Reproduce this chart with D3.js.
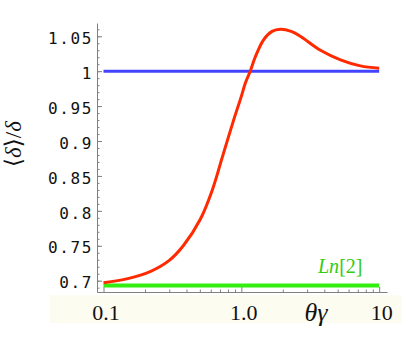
<!DOCTYPE html>
<html>
<head>
  <style>
    body { margin: 0; background: #fff; }
    .axis path, .axis line { stroke: #808080; }
  </style>
</head>
<body>
  <script src="https://d3js.org/d3.v7.min.js"></script>
  <script>
    // values
    const thetaGamma = [0.1, 0.15, 0.218, 0.3, 0.379, 0.504, 0.616, 0.728, 0.879, 1.0, 1.07, 1.16, 1.26, 1.45, 1.67, 1.92, 2.3, 2.68, 3.75, 5.24, 7.31, 10];
    const ratio = [0.697, 0.703, 0.713, 0.729, 0.750, 0.788, 0.830, 0.877, 0.930, 0.964, 0.983, 1.0, 1.020, 1.045, 1.057, 1.060, 1.057, 1.050, 1.030, 1.0163, 1.0076, 1.0043];
    const flatRange = [0.1, 10];
    const blueLevel = 1;
    const greenLevel = 0.6931;
    const xTicks = [0.1, 1, 10];
    const xTickLabels = ["0.1", "1.0", "10"];
    const xMinor = [0.2, 0.3, 0.4, 0.5, 0.6, 0.7, 0.8, 0.9, 2, 3, 4, 5, 6, 7, 8, 9];
    const yTicks = [0.7, 0.75, 0.8, 0.85, 0.9, 0.95, 1, 1.05];
    const yTickLabels = ["0.7", "0.75", "0.8", "0.85", "0.9", "0.95", "1", "1.05"];

    const serif = '"Liberation Serif", "Times New Roman", "DejaVu Serif", serif';
    const width = 409, height = 341;
    const svg = d3.select('body').append('svg')
      .attr('width', width)
      .attr('height', height);

    const x = d3.scaleLog().domain([0.0897, 11.4]).range([97, 387]);
    const y = d3.scaleLinear().domain([0.6838, 1.069]).range([292, 23]);

    // pale band behind the x labels
    svg.append('rect')
      .attr('x', 50).attr('y', 295)
      .attr('width', 352).attr('height', 28)
      .attr('fill', '#fcfcf1');

    // minor ticks
    const yMinor = d3.range(0.69, 1.0651, 0.01);
    svg.append('g').attr('class', 'axis')
      .attr('transform', 'translate(97,0)')
      .call(d3.axisLeft(y).tickValues(yMinor).tickSize(-2.5).tickFormat(''))
      .call(g => g.select('.domain').remove());
    svg.append('g').attr('class', 'axis')
      .attr('transform', 'translate(0,292)')
      .call(d3.axisBottom(x).tickValues(xMinor).tickSize(-2.5).tickFormat(''))
      .call(g => g.select('.domain').remove());

    // y axis
    const yAxis = svg.append('g').attr('class', 'axis')
      .attr('transform', 'translate(97,0)')
      .call(d3.axisLeft(y).tickValues(yTicks).tickSize(-5).tickSizeOuter(0).tickPadding(4)
        .tickFormat((d, i) => yTickLabels[i]));
    yAxis.selectAll('text')
      .attr('dy', '0.45em')
      .attr('font-family', '"DejaVu Sans Mono", monospace')
      .attr('font-size', 16)
      .style('letter-spacing', '1.6px')
      .attr('fill', '#111');

    // x axis
    const xAxis = svg.append('g').attr('class', 'axis')
      .attr('transform', 'translate(0,292)')
      .call(d3.axisBottom(x).tickValues(xTicks).tickSize(-5).tickSizeOuter(0).tickPadding(0)
        .tickFormat((d, i) => xTickLabels[i]));
    xAxis.attr('font-family', serif);
    xAxis.selectAll('text')
      .attr('y', 28).attr('dy', 0)
      .attr('dx', 2)
      .attr('font-family', serif)
      .attr('font-size', 22)
      .attr('fill', '#111');

    // lines
    const line = d3.line()
      .x(d => x(d[0]))
      .y(d => y(d[1]))
      .curve(d3.curveCatmullRom.alpha(0.5));

    svg.append('path')
      .datum(flatRange.map(t => [t, greenLevel]))
      .attr('d', line)
      .attr('fill', 'none')
      .attr('stroke', '#33ee11')
      .attr('stroke-width', 4);

    svg.append('path')
      .datum(flatRange.map(t => [t, blueLevel]))
      .attr('d', line)
      .attr('fill', 'none')
      .attr('stroke', '#4444ff')
      .attr('stroke-width', 3);

    svg.append('path')
      .datum(thetaGamma.map((t, i) => [t, ratio[i]]))
      .attr('d', line)
      .attr('fill', 'none')
      .attr('stroke', '#ff2a00')
      .attr('stroke-width', 3);

    // labels
    const ln = svg.append('text')
      .attr('x', 318).attr('y', 273)
      .attr('font-family', serif)
      .attr('font-size', 20)
      .attr('fill', '#33cc11');
    ln.append('tspan').attr('font-style', 'italic').text('Ln');
    ln.append('tspan').text('[2]');

    svg.append('text')
      .attr('x', 316).attr('y', 321)
      .attr('text-anchor', 'middle')
      .attr('font-family', serif)
      .attr('font-style', 'italic')
      .attr('font-size', 26)
      .attr('fill', '#111')
      .text('θγ');

    const yl = svg.append('text')
      .attr('transform', 'translate(21,144) rotate(-90)')
      .attr('text-anchor', 'middle')
      .attr('font-family', serif)
      .attr('font-size', 23)
      .attr('fill', '#111');
    yl.append('tspan').text('⟨');
    yl.append('tspan').attr('font-style', 'italic').text('δ');
    yl.append('tspan').text('⟩/');
    yl.append('tspan').attr('font-style', 'italic').text('δ');
  </script>
</body>
</html>
